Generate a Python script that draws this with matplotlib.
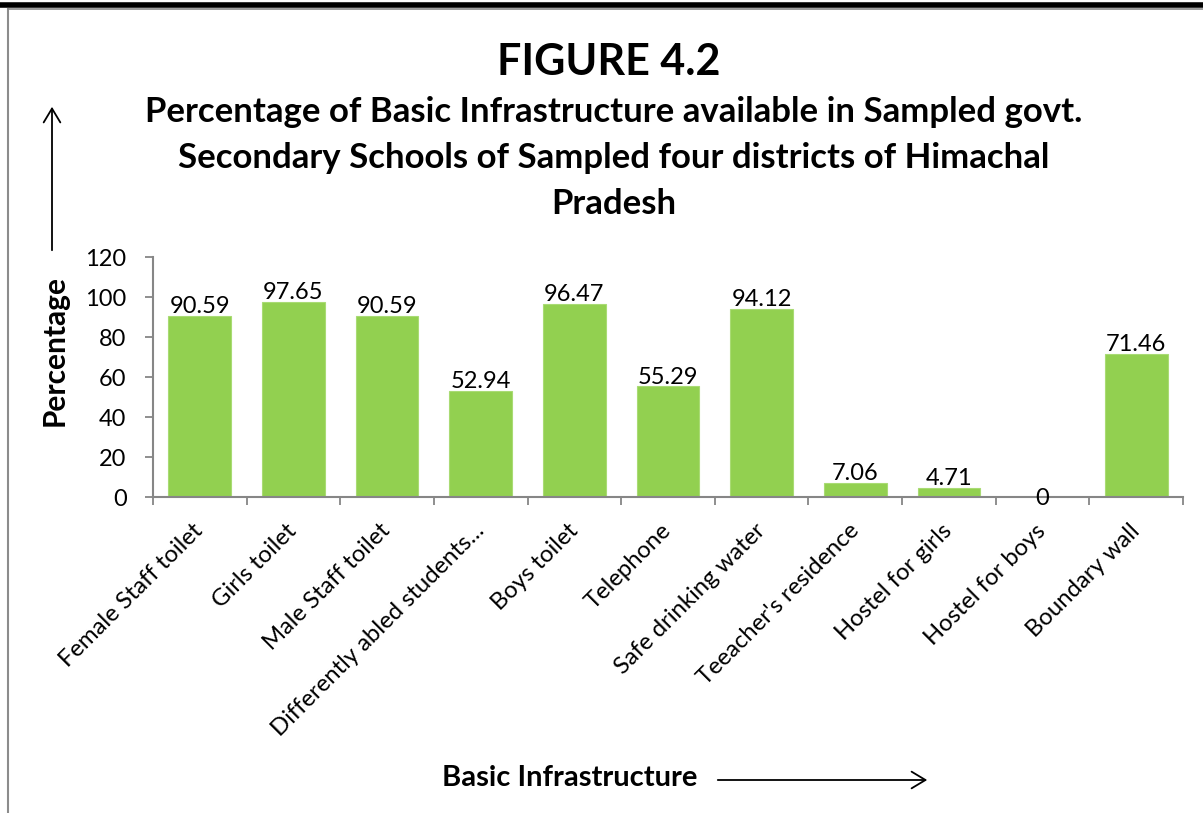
import matplotlib
matplotlib.use("Agg")
import matplotlib.pyplot as plt
from matplotlib.lines import Line2D
from matplotlib.patches import FancyArrowPatch

plt.rcParams['font.family'] = ['Lato', 'DejaVu Sans']

categories = ["Female Staff toilet", "Girls toilet", "Male Staff toilet",
              "Differently abled students...", "Boys toilet", "Telephone",
              "Safe drinking water", "Teeacher's residence", "Hostel for girls",
              "Hostel for boys", "Boundary wall"]
values = [90.59, 97.65, 90.59, 52.94, 96.47, 55.29, 94.12, 7.06, 4.71, 0, 71.46]
value_labels = ["90.59", "97.65", "90.59", "52.94", "96.47", "55.29", "94.12",
                "7.06", "4.71", "0", "71.46"]
yticks = [0, 20, 40, 60, 80, 100, 120]

W, H = 1203, 813
fig = plt.figure(figsize=(W / 100, H / 100), dpi=100)

ax = fig.add_axes([153 / W, 1 - 497 / H, (1183 - 153) / W, (497 - 257) / H])
x = list(range(len(categories)))
ax.bar(x, values, width=0.67, color="#92D050", edgecolor="#A9DB74", linewidth=0.8, zorder=2)
ax.set_xlim(-0.5, len(categories) - 0.5)
ax.set_ylim(0, 120)
ax.set_yticks(yticks)
ax.set_yticklabels([str(t) for t in yticks], fontsize=17)
ax.set_xticks(x)
ax.set_xticklabels(categories, rotation=45, ha='right', va='center',
                   rotation_mode='anchor', fontsize=17.2)
ax.set_xticks([i - 0.5 for i in range(len(categories) + 1)], minor=True)
ax.tick_params(axis='x', which='major', length=0, pad=22)
ax.tick_params(axis='x', which='minor', length=6, color='#868686', width=1.3)
ax.tick_params(axis='y', length=6, color='#868686', width=1.3, pad=13)
for s in ['top', 'right']:
    ax.spines[s].set_visible(False)
for s in ['left', 'bottom']:
    ax.spines[s].set_color('#868686')
    ax.spines[s].set_linewidth(1.5)

for xi, v, lab in zip(x, values, value_labels):
    off = 2 if v > 0 else -6
    ax.annotate(lab, (xi, v), xytext=(0, off), textcoords='offset points',
                ha='center', va='baseline', fontsize=17)

fig.text(609 / W, 1 - 62 / H, "FIGURE 4.2", ha='center', va='center',
         fontsize=31, fontweight='bold')
fig.text(614 / W, 1 - 158 / H,
         "Percentage of Basic Infrastructure available in Sampled govt.\n"
         "Secondary Schools of Sampled four districts of Himachal\nPradesh",
         ha='center', va='center', fontsize=25, fontweight='bold', linespacing=1.55)

fig.text(55 / W, 1 - 350 / H, "Percentage", rotation=90, ha='center', va='center',
         fontsize=21.5, fontweight='bold')
fig.text(570 / W, 1 - 778 / H, "Basic Infrastructure", ha='center', va='center',
         fontsize=21, fontweight='bold')

fig.add_artist(FancyArrowPatch((52 / W, 1 - 253 / H), (52 / W, 1 - 104 / H),
                               transform=fig.transFigure, arrowstyle='->,head_length=10,head_width=6',
                               mutation_scale=1, color='black', lw=1.3))
fig.add_artist(FancyArrowPatch((715 / W, 1 - 780 / H), (930 / W, 1 - 780 / H),
                               transform=fig.transFigure, arrowstyle='->,head_length=10,head_width=6',
                               mutation_scale=1, color='black', lw=1.3))

# page frame lines
fig.add_artist(Line2D([0, 1], [1 - 5.5 / H, 1 - 5.5 / H], transform=fig.transFigure,
                      color='black', lw=4))
fig.add_artist(Line2D([8 / W, 1], [1 - 9.5 / H, 1 - 9.5 / H], transform=fig.transFigure,
                      color='#8c8c8c', lw=1.2))
fig.add_artist(Line2D([8 / W, 8 / W], [1 - 9.5 / H, 0], transform=fig.transFigure,
                      color='#8c8c8c', lw=1.5))

fig.savefig("out.png", dpi=100)
